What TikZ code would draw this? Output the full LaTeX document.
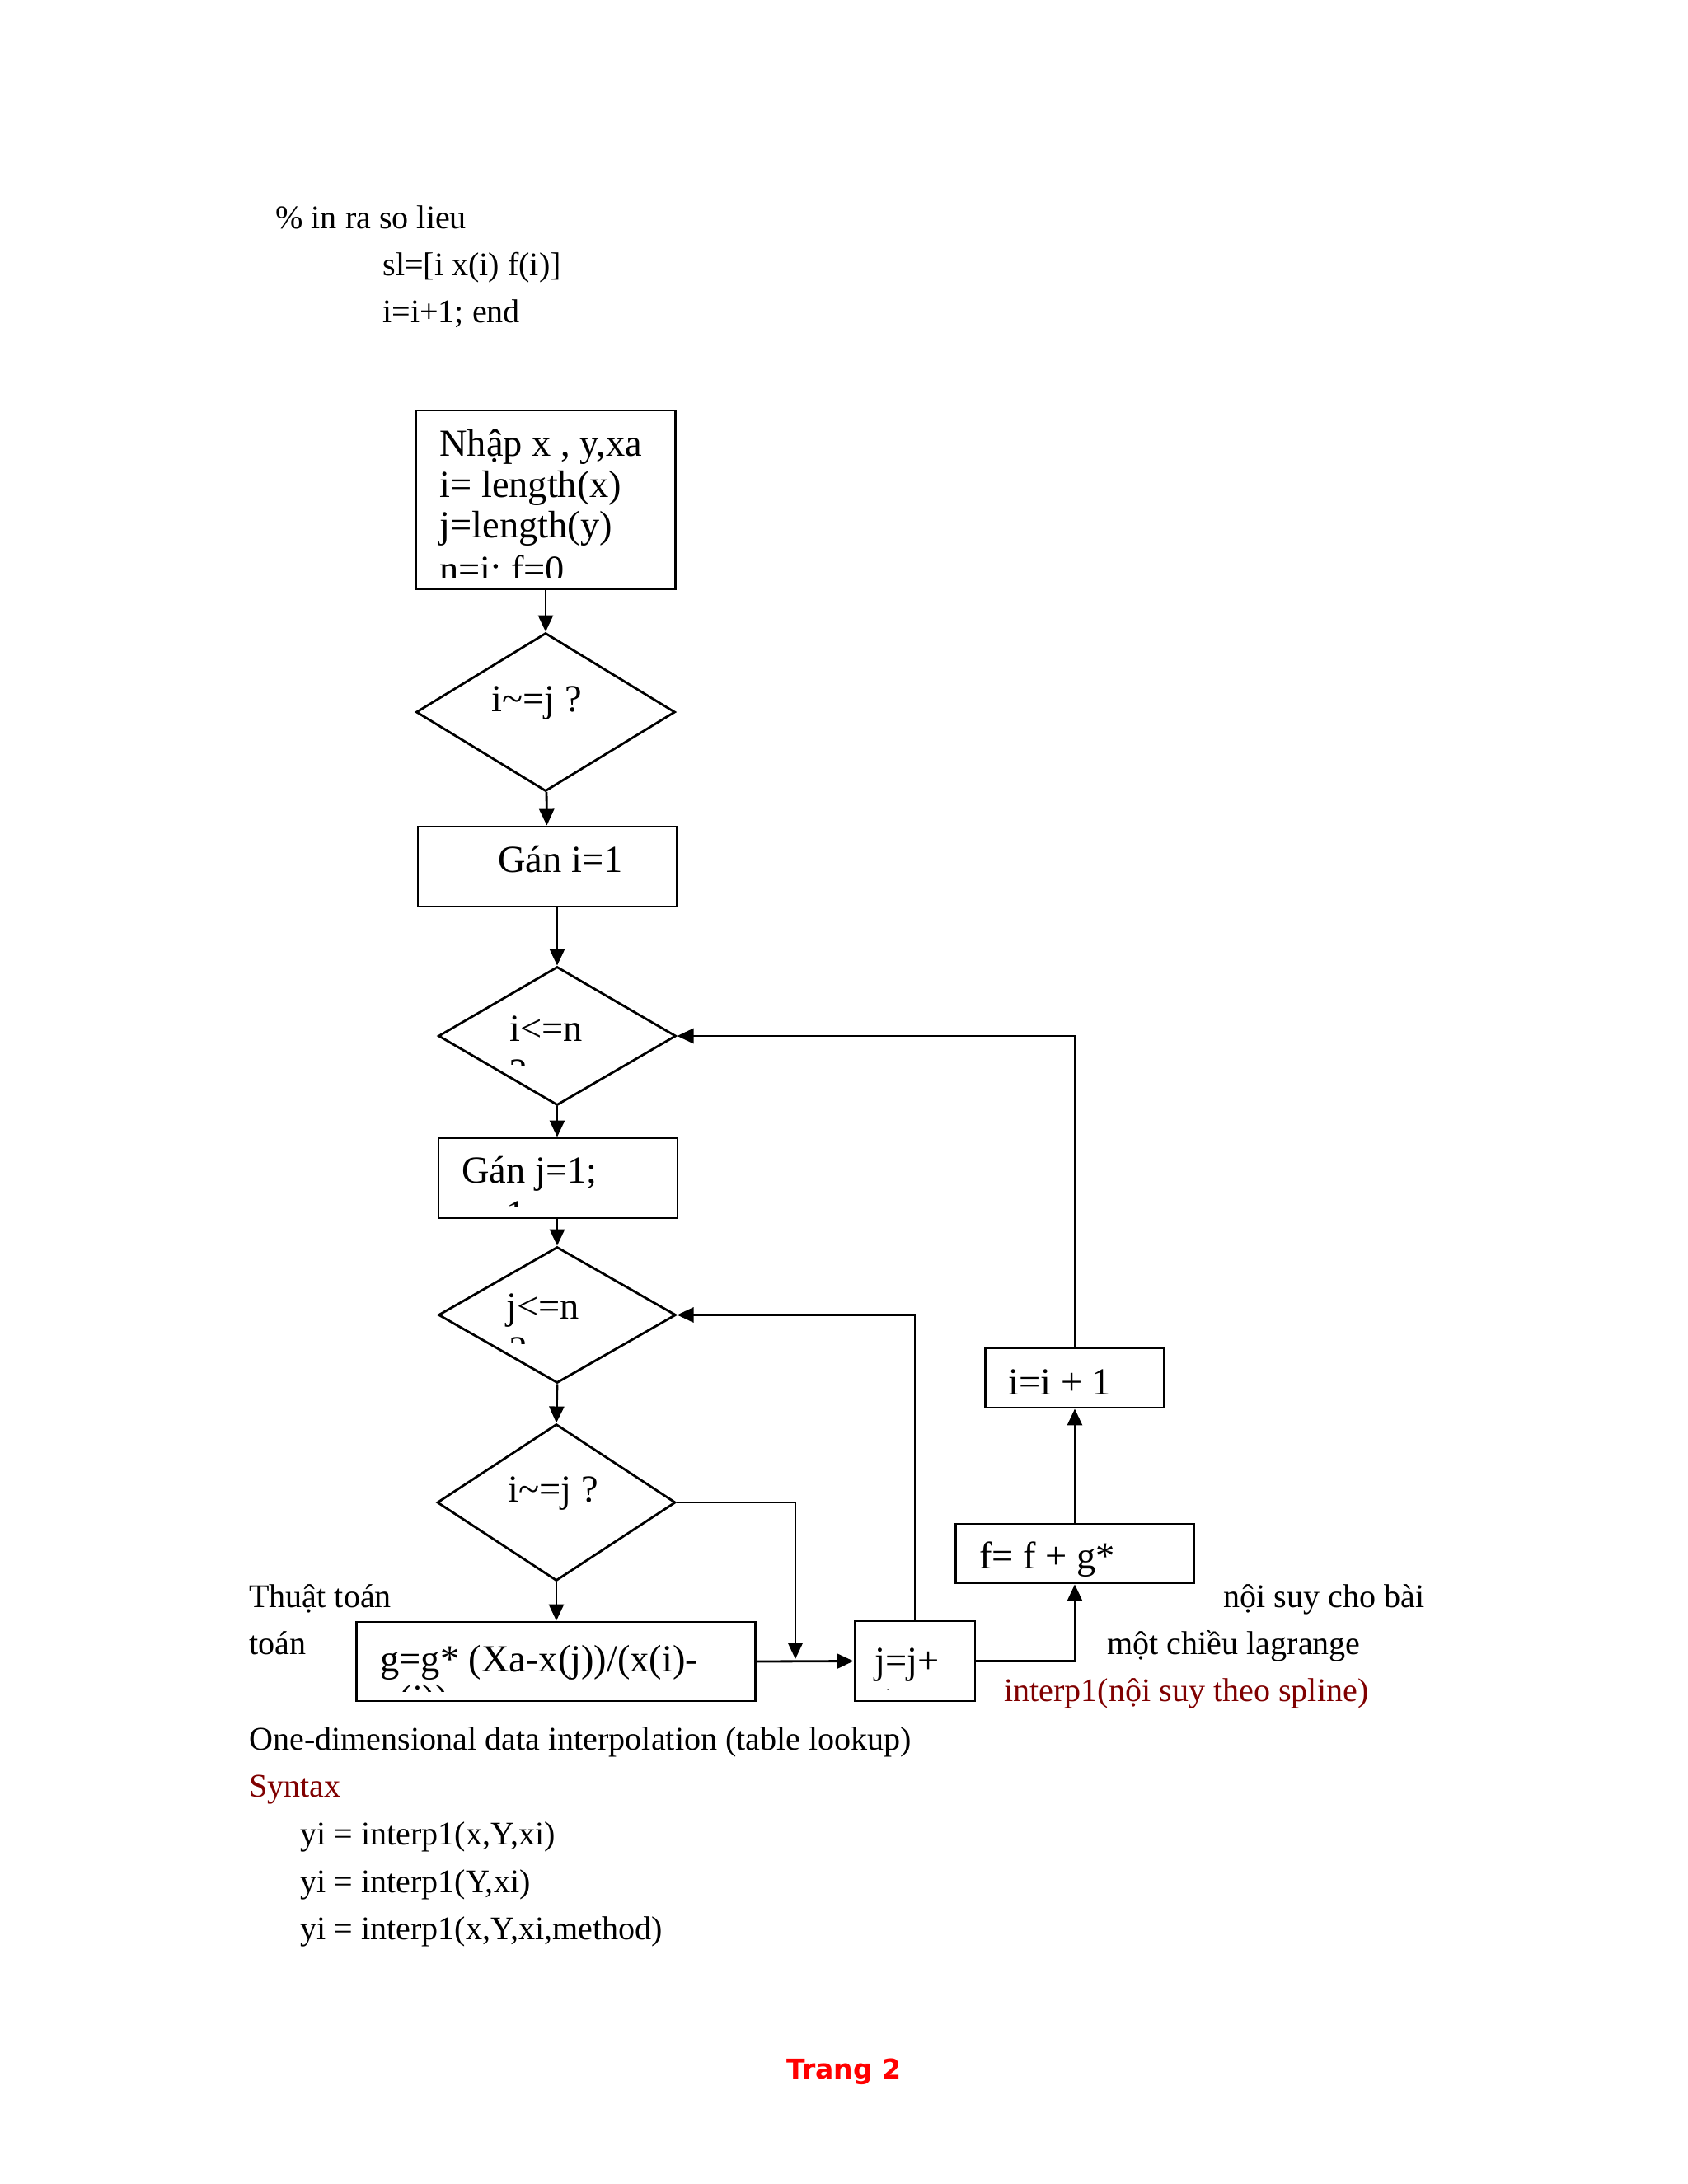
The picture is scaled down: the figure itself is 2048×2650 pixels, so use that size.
\documentclass[tikz,border=0pt]{standalone}
\usepackage{fontspec}
\setmainfont{Liberation Serif}
\newfontfamily\footfont{DejaVu Sans}
\usetikzlibrary{shapes.geometric, arrows.meta}
\definecolor{syntaxred}{RGB}{128,0,0}
\definecolor{pagered}{RGB}{255,0,0}
\tikzset{
  procbox/.style={draw, rectangle, inner sep=0pt, line width=0.8pt},
  decision/.style={draw, diamond, inner sep=0pt, line width=0.8pt},
  boxtext/.style={anchor=base west, inner sep=0pt, font=\fontsize{13.2}{15}\selectfont},
  plain/.style={anchor=base west, inner sep=0pt, font=\fontsize{11.4}{14}\selectfont},
}

\begin{document}
\begin{tikzpicture}[x=0.01cm, y=-0.01cm, >={Triangle[length=0.2cm,width=0.18cm]}, line width=0.8pt]
    \useasboundingbox (0,0) rectangle (2048,2650);
    \fill[white] (0,0) rectangle (2048,2650);

    % Code lines above the chart
    \node[plain] (cmt) at (333,277) {\% in ra so lieu};
    \node[plain] (sl) at (463,334) {sl=[i x(i) f(i)]};
    \node[plain] (incr) at (463,391) {i=i+1; end};

    % Draw the shapes of the flowchart
    \node[procbox, minimum width=3.14cm, minimum height=2.17cm] (input) at (662,606.5) {};
    \node[decision, minimum width=3.14cm, minimum height=1.92cm] (dcheck) at (662,864) {};
    \node[procbox, minimum width=3.14cm, minimum height=0.97cm] (seti) at (664,1051.5) {};
    \node[decision, minimum width=2.88cm, minimum height=1.68cm] (iloop) at (676,1257) {};
    \node[procbox, minimum width=2.90cm, minimum height=0.97cm] (setj) at (677,1429.5) {};
    \node[decision, minimum width=2.88cm, minimum height=1.65cm] (jloop) at (676,1595.5) {};
    \node[decision, minimum width=2.89cm, minimum height=1.90cm] (jcheck) at (675,1823) {};
    \node[procbox, minimum width=4.83cm, minimum height=0.96cm] (gupd) at (674.5,2016) {};
    \node[procbox, minimum width=1.46cm, minimum height=0.97cm] (jinc) at (1110,2015.5) {};
    \node[procbox, minimum width=2.89cm, minimum height=0.72cm] (fupd) at (1304,1885) {};
    \node[procbox, minimum width=2.17cm, minimum height=0.72cm] (iinc) at (1304,1672) {};

    % Texts inside the shapes (lines that do not fit are cut off)
    \begin{scope}
        \clip (507,498) rectangle (821,700);
        \node[boxtext] (inA) at (532,553) {Nhập x , y,xa};
        \node[boxtext] (inB) at (532,603) {i= length(x)};
        \node[boxtext] (inC) at (532,652) {j=length(y)};
        \node[boxtext] (inD) at (532,706) {n=i; f=0};
    \end{scope}
    \node[boxtext] (dcheckT) at (595,863) {i\textasciitilde=j ?};
    \node[boxtext] (setiT) at (603,1058) {Gán i=1};
    \begin{scope}
        \clip (532,1173) rectangle (820,1293);
        \node[boxtext] (iloopT) at (617,1263) {i<=n};
        \node[boxtext] (iloopQ) at (617,1316) {?};
    \end{scope}
    \begin{scope}
        \clip (532,1381) rectangle (822,1463);
        \node[boxtext] (setjT) at (559,1435) {Gán j=1;};
        \node[boxtext] (setjR) at (613,1488) {1};
    \end{scope}
    \begin{scope}
        \clip (532,1513) rectangle (820,1630);
        \node[boxtext] (jloopT) at (613,1600) {j<=n};
        \node[boxtext] (jloopQ) at (617,1653) {?};
    \end{scope}
    \node[boxtext] (jcheckT) at (615,1822) {i\textasciitilde=j ?};
    \begin{scope}
        \clip (433,1968) rectangle (916,2052);
        \node[boxtext] (gupdT) at (460,2028) {g=g* (Xa-x(j))/(x(i)-};
        \node[boxtext] (gupdR) at (460,2076) {x(j))};
    \end{scope}
    \begin{scope}
        \clip (1037,1967) rectangle (1183,2050);
        \node[boxtext] (jincT) at (1060,2030) {j=j+};
        \node[boxtext] (jincR) at (1063,2080) {1};
    \end{scope}
    \begin{scope}
        \clip (1162,1849) rectangle (1451,1912);
        \node[boxtext] (fupdT) at (1187,1903) {f= f + g*};
    \end{scope}
    \node[boxtext] (iincT) at (1222,1692) {i=i + 1};

    % Draw arrows connecting the shapes
    \draw[->] (input) -- (dcheck);
    \draw[->] (dcheck) -- (seti);
    \draw[->] (seti.south -| iloop.north) -- (iloop.north);
    \draw[->] (iloop) -- (iloop.south |- setj.north);
    \draw[->] (setj.south -| jloop.north) -- (jloop.north);
    \draw[->] (jloop.south) -- (jcheck.north);
    \draw[->] (jcheck.south) -- (jcheck.south |- gupd.north);
    \coordinate (merge) at (965,2013);
    \draw[->] (jcheck.east) -| (merge);
    \draw[->] (gupd.east) -- (jinc.west);
    \draw[->] (jinc.north) |- (jloop.east);
    \draw[->] (jinc.east) -| (fupd.south);
    \draw[->] (fupd) -- (iinc);
    \draw[->] (iinc.north) |- (iloop.east);

    % Text round the chart
    \node[plain] (algoA) at (301,1950) {Thuật toán};
    \node[plain] (algoB) at (301,2007) {toán};
    \node[plain] (noteA) at (1483,1950) {nội suy cho bài};
    \node[plain] (noteB) at (1342,2007) {một chiều lagrange};
    \node[plain, text=syntaxred] (noteC) at (1217,2064) {interp1(nội suy theo spline)};
    \node[plain] (title) at (301,2123) {One-dimensional data interpolation (table lookup)};
    \node[plain, text=syntaxred] (syntax) at (301,2180) {Syntax};
    \node[plain] (useA) at (363,2238) {yi = interp1(x,Y,xi)};
    \node[plain] (useB) at (363,2296) {yi = interp1(Y,xi)};
    \node[plain] (useC) at (363,2353) {yi = interp1(x,Y,xi,method)};

    % Page footer
    \node[anchor=base west, inner sep=0pt, font={\footfont\bfseries\fontsize{9.4}{11}\selectfont}, text=pagered] (page) at (953,2522) {Trang 2};
\end{tikzpicture}
\end{document}
